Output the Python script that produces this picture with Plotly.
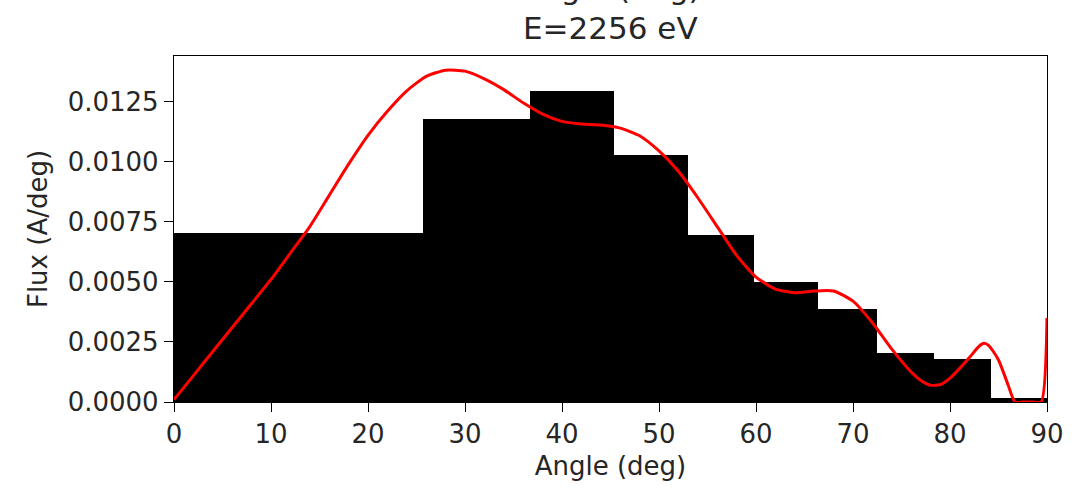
import plotly.graph_objects as go

# Histogram of flux per angular bin (bin edges in degrees)
bin_edges = [0.0, 25.7, 36.7, 45.4, 53.0, 59.8, 66.4, 72.5, 78.3, 84.2, 90.0]
bin_flux = [0.00704, 0.01179, 0.01296, 0.01029, 0.00695, 0.00501,
            0.00385, 0.00203, 0.00178, 0.00018]

# Smoothed angular flux profile
curve_angle = [0, 2, 4, 6, 8, 10, 12, 14, 16, 18, 20, 22, 24, 26, 28, 30,
               32, 34, 36, 38, 40, 42, 44, 46, 48, 50, 52, 54, 56, 58, 60,
               62, 64, 66, 68, 70, 72, 74, 76, 77, 78, 79, 80, 81, 82, 83,
               83.5, 84, 85, 86, 86.7, 87.5, 88.5, 89.4, 90]
curve_flux = [0.0001, 0.0011, 0.0021, 0.0031, 0.0041, 0.0051, 0.0062,
              0.0073, 0.0086, 0.0099, 0.0111, 0.0121, 0.01295, 0.01355,
              0.01381, 0.01377, 0.01345, 0.0130, 0.01245, 0.01198, 0.01168,
              0.01157, 0.01153, 0.01140, 0.01108, 0.01045, 0.00960, 0.00850,
              0.00730, 0.00610, 0.00520, 0.00470, 0.00455, 0.00462, 0.00462,
              0.00420, 0.00330, 0.00220, 0.00125, 0.00090, 0.00070, 0.00072,
              0.00099, 0.00140, 0.00185, 0.00232, 0.00244, 0.00235, 0.00175,
              0.00070, 0.0, 0.0, 0.0, 0.0, 0.0035]

x_ticks = [0, 10, 20, 30, 40, 50, 60, 70, 80, 90]
y_ticks = [0.0, 0.0025, 0.005, 0.0075, 0.01, 0.0125]
y_tick_text = ["0.0000", "0.0025", "0.0050", "0.0075", "0.0100", "0.0125"]

centers = [(a + b) / 2 for a, b in zip(bin_edges[:-1], bin_edges[1:])]
widths = [b - a for a, b in zip(bin_edges[:-1], bin_edges[1:])]

FONT = "DejaVu Sans"
INK = "#262626"

fig = go.Figure()
fig.add_trace(go.Bar(
    x=centers, y=bin_flux, width=widths,
    marker=dict(color="black", line=dict(width=0)),
    showlegend=False, hoverinfo="x+y",
))
fig.add_trace(go.Scatter(
    x=curve_angle, y=curve_flux, mode="lines",
    line=dict(color="red", width=3, shape="spline", smoothing=0.6),
    showlegend=False,
))

axis_common = dict(
    showline=True, linecolor="black", linewidth=1.3, mirror=True,
    ticks="outside", ticklen=9, tickwidth=1.3, tickcolor="black",
    showgrid=False, zeroline=False,
    tickfont=dict(family=FONT, size=26, color=INK),
)

fig.update_layout(
    width=1078, height=491,
    margin=dict(l=174, r=31, t=56, b=89),
    paper_bgcolor="white", plot_bgcolor="white",
    bargap=0,
    xaxis=dict(range=[0, 90], tickvals=x_ticks,
               title=dict(text="Angle (deg)", font=dict(family=FONT, size=26, color=INK),
                          standoff=8),
               **axis_common),
    yaxis=dict(range=[0, 0.0144], tickvals=y_ticks, ticktext=y_tick_text,
               title=dict(text="Flux (A/deg)", font=dict(family=FONT, size=26, color=INK),
                          standoff=12),
               **axis_common),
    annotations=[
        dict(text="Angle (deg)", x=0.5, y=1.196, xref="paper", yref="paper",
             xanchor="center", yanchor="middle", showarrow=False,
             font=dict(family=FONT, size=31, color=INK)),
        dict(text="E=2256 eV", x=0.5, y=1.082, xref="paper", yref="paper",
             xanchor="center", yanchor="middle", showarrow=False,
             font=dict(family=FONT, size=31, color=INK)),
    ],
)

fig.write_html("out.html")
